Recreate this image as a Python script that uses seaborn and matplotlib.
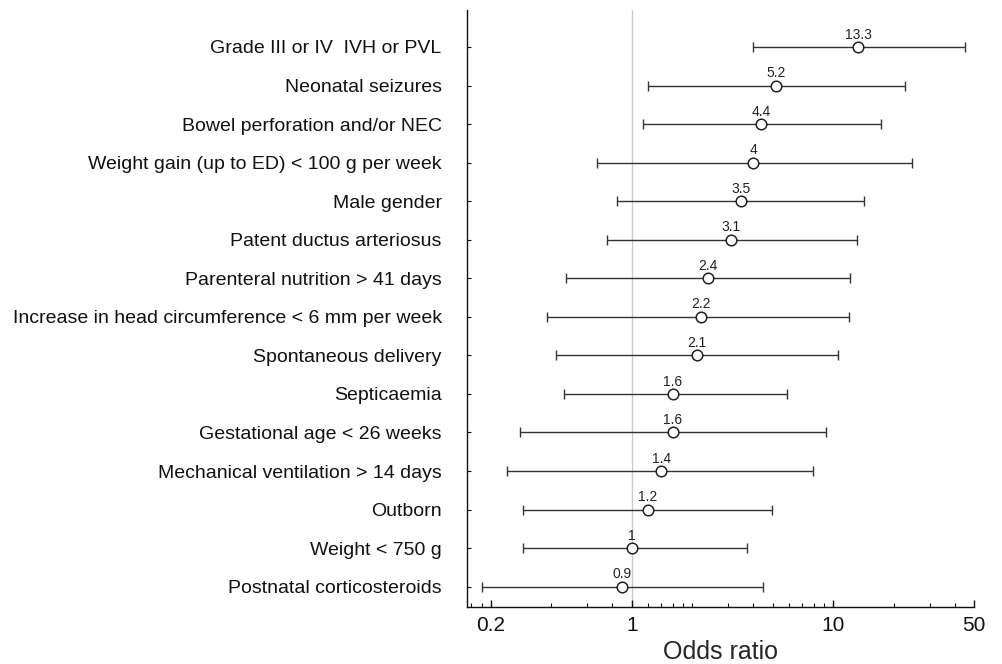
import numpy as np
import pandas as pd
import matplotlib
matplotlib.use("Agg")
import matplotlib.pyplot as plt
import matplotlib.ticker as mticker
import seaborn as sns

sns.set_style("white")
plt.rcParams["font.family"] = ["Liberation Sans", "DejaVu Sans"]

# Risk factors (top to bottom)
factors = [
    "Grade III or IV  IVH or PVL",
    "Neonatal seizures",
    "Bowel perforation and/or NEC",
    "Weight gain (up to ED) < 100 g per week",
    "Male gender",
    "Patent ductus arteriosus",
    "Parenteral nutrition > 41 days",
    "Increase in head circumference < 6 mm per week",
    "Spontaneous delivery",
    "Septicaemia",
    "Gestational age < 26 weeks",
    "Mechanical ventilation > 14 days",
    "Outborn",
    "Weight < 750 g",
    "Postnatal corticosteroids",
]
odds_ratio = [13.3, 5.2, 4.4, 4.0, 3.5, 3.1, 2.4, 2.2, 2.1, 1.6, 1.6, 1.4, 1.2, 1.0, 0.9]
or_labels = ["13.3", "5.2", "4.4", "4", "3.5", "3.1", "2.4", "2.2", "2.1",
             "1.6", "1.6", "1.4", "1.2", "1", "0.9"]
ci_low = [3.98, 1.21, 1.14, 0.67, 0.85, 0.75, 0.47, 0.38, 0.42, 0.46, 0.28, 0.24, 0.29, 0.29, 0.18]
ci_high = [44.9, 22.6, 17.2, 24.5, 14.2, 13.1, 12.1, 11.9, 10.5, 5.9, 9.2, 7.9, 4.95, 3.72, 4.5]

df = pd.DataFrame({"factor": factors, "or": odds_ratio, "low": ci_low, "high": ci_high})
df["pos"] = np.arange(len(df))

fig = plt.figure(figsize=(10.02, 6.64), dpi=100)
ax = fig.add_axes([0.4658, 0.0863, 0.5065, 0.8987])
ax.set_xscale("log")

# reference line at OR = 1
ax.axvline(1, color="#cccccc", lw=1, zorder=0)

# confidence intervals
ax.errorbar(df["or"], df["pos"],
            xerr=[df["or"] - df["low"], df["high"] - df["or"]],
            fmt="none", ecolor="#333333", elinewidth=1, capsize=3.5, capthick=1, zorder=1)

# point estimates
sns.scatterplot(data=df, x="or", y="pos", ax=ax, s=58, marker="o",
                facecolor="white", edgecolor="#222222", linewidth=1.1, zorder=3)

for x, y, lab in zip(df["or"], df["pos"], or_labels):
    ax.annotate(lab, (x, y), xytext=(0, 6), textcoords="offset points",
                ha="center", va="baseline", fontsize=10, color="#222222")

ax.set_xlim(0.152, 50)
ax.set_ylim(len(df) - 0.48, -0.96)
ax.set_yticks(df["pos"])
ax.set_yticklabels(df["factor"], fontsize=14)
ax.set_ylabel("")

ax.xaxis.set_major_locator(mticker.FixedLocator([0.2, 1, 10, 50]))
ax.xaxis.set_major_formatter(mticker.FixedFormatter(["0.2", "1", "10", "50"]))
ax.xaxis.set_minor_locator(mticker.FixedLocator(
    [0.16, 0.18, 0.4, 0.6, 0.8, 1.2, 1.4, 1.6, 1.8, 2, 3, 4, 5, 6, 7, 8, 9, 20, 30, 40]))
ax.xaxis.set_minor_formatter(mticker.NullFormatter())
ax.tick_params(axis="x", which="major", direction="in", bottom=True, length=5, width=1,
               labelsize=15, pad=7, colors="#111111")
ax.tick_params(axis="x", which="minor", direction="in", bottom=True, length=3, width=0.8,
               colors="#111111")
ax.tick_params(axis="y", direction="in", left=True, length=3, width=0.8, pad=18,
               colors="#111111")
ax.set_xlabel("Odds ratio", fontsize=18, labelpad=3)

sns.despine(ax=ax, top=True, right=True)
for s in ["left", "bottom"]:
    ax.spines[s].set_color("#111111")
    ax.spines[s].set_linewidth(1)

fig.savefig("out.png", dpi=100)
